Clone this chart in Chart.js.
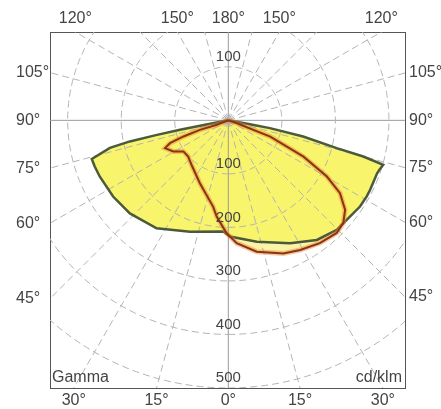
<!DOCTYPE html>
<html>
<head>
<meta charset="utf-8">
<title>Luminous intensity distribution</title>
<script src="https://cdn.jsdelivr.net/npm/chart.js@4.4.1/dist/chart.umd.min.js"></script>
<style>
	html, body {margin: 0; padding: 0; background: #fff;}
	canvas     {display: block;}
</style>
</head>
<body>
<canvas id="polar-chart" width="441" height="409"></canvas>
<script>
// Plane C0-C180 (yellow area, dark green outline). Gamma in degrees, left half negative.
var planeAGamma = [-90, -79.1, -78.9, -78.4, -77.9, -76.9, -74.2, -70.9, -66.3, -56.5, -46.6, -33.6, -19, -2.6,
                   0.8, 13.2, 26.7, 36.5, 44.7, 52, 56.8, 61.2, 63.9, 70.4, 71.9, 74, 75, 75.6, 77.8, 79.4, 79.6, 90];
var planeAValue = [0, 44, 92, 140, 188, 227, 265, 264, 262, 258, 253, 242, 220, 208,
                   217, 233, 257, 278, 288, 290, 294, 295, 295, 295, 297, 301, 261, 209, 143, 79, 41, 0];

// Plane C90-C270 (brown outline)
var planeBGamma = [-90, -68.8, -71.4, -70.2, -68.6, -66.3, -60.4, -55.3, -47.9, -39.4, -24.3, -9.9, -6.9, -0.8,
                   3.9, 12.2, 22.5, 29, 36.7, 43.9, 48.2, 52.5, 56.9, 60.3, 64.2, 68.8, 71.6, 90];
var planeBValue = [0, 23, 56, 89, 117, 129, 118, 102, 101, 108, 129, 164, 181, 211,
                   230, 251, 269, 277, 286, 292, 288, 275, 249, 212, 156, 84, 17, 0];

// Grid and labels
var ringValues   = [100, 200, 300, 400, 500];
var ringLabelsUp = [100];
var spokeAngles  = [15, 30, 45, 60, 75, 105, 120, 135, 150, 165];
var topAngles    = [-120, -150, 180, 150, 120];
var bottomAngles = [-30, -15, 0, 15, 30];
var sideAngles   = [105, 90, 75, 60, 45];

// Visible window of the diagram (cd/klm)
var xMin = -333, xMax = 330, yMin = -500, yMax = 165;

function rad(deg) {return deg * Math.PI / 180;}

function toXY(gamma, value) {
	return {x: value * Math.sin(rad(gamma)), y: -value * Math.cos(rad(gamma))};
}

function planePoints(gammas, values) {
	var pts = [];
	for (var i = 0; i < gammas.length; i++) {pts.push(toXY(gammas[i], values[i]));}
	return pts;
}

function lineSet(data, color, width, dash, order, extra) {
	var ds = {data: data, showLine: true, pointRadius: 0, borderColor: color, borderWidth: width,
	          borderDash: dash || [], fill: false, clip: 0, order: order, tension: 0};
	for (var k in extra || {}) {ds[k] = extra[k];}
	return ds;
}

var datasets = [];

// fills first (highest order is painted first)
datasets.push(lineSet(planePoints(planeAGamma, planeAValue), 'rgba(0,0,0,0)', 0, null, 5,
	{fill: 'shape', backgroundColor: '#f8f46c'}));
datasets.push(lineSet(planePoints(planeBGamma, planeBValue), 'rgba(0,0,0,0)', 0, null, 5,
	{fill: 'shape', backgroundColor: '#fbf3a6'}));

// dashed rings
ringValues.forEach(function(v) {
	var pts = [];
	for (var d = 0; d <= 360; d += 2) {pts.push(toXY(d, v));}
	datasets.push(lineSet(pts, '#b4b4b4', 1, [7, 4], 4));
});

// dashed spokes every 15 degrees
spokeAngles.forEach(function(a) {
	datasets.push(lineSet([toXY(a, 0), toXY(a, 900)],   '#b4b4b4', 1, [7, 4], 4));
	datasets.push(lineSet([toXY(-a, 0), toXY(-a, 900)], '#b4b4b4', 1, [7, 4], 4));
});

// solid main axes
datasets.push(lineSet([toXY(0, 900), toXY(180, 900)], '#9a9a9a', 1, null, 4));
datasets.push(lineSet([toXY(-90, 900), toXY(90, 900)], '#9a9a9a', 1, null, 4));

// outlines
datasets.push(lineSet(planePoints(planeAGamma, planeAValue), '#4b5a3a', 2.5, null, 2));
datasets.push(lineSet(planePoints(planeBGamma, planeBValue), 'rgba(236,128,60,0.45)', 5, null, 1));
datasets.push(lineSet(planePoints(planeBGamma, planeBValue), '#8a3410', 2, null, 0));

var tickFont  = {family: "'Liberation Sans', Arial, sans-serif", size: 16};
var tickColor = '#444';
var boxBorder = {display: true, color: '#555', width: 1};

function angleLabel(list) {
	return function(v, i) {return Math.abs(list[i]) + '\u00b0';};
}

var labelPlugin = {
	id: 'diagramLabels',
	afterDatasetsDraw: function(chart) {
		var ctx  = chart.ctx;
		var xs   = chart.scales.x;
		var ys   = chart.scales.y;
		var area = chart.chartArea;
		var cx   = xs.getPixelForValue(0);

		ctx.save();
		ctx.font         = '15px "Liberation Sans", Arial, sans-serif';
		ctx.fillStyle    = '#444';
		ctx.textAlign    = 'center';
		ctx.textBaseline = 'middle';
		ringValues.forEach(function(v)   {ctx.fillText(String(v), cx, ys.getPixelForValue(-v) - 10);});
		ringLabelsUp.forEach(function(v) {ctx.fillText(String(v), cx, ys.getPixelForValue(v) - 10);});

		ctx.font      = '16px "Liberation Sans", Arial, sans-serif';
		ctx.textAlign = 'left';
		ctx.fillText('Gamma', area.left + 2, area.bottom - 10);
		ctx.textAlign = 'right';
		ctx.fillText('cd/klm', area.right - 3, area.bottom - 10);
		ctx.restore();
	}
};

new Chart(document.getElementById('polar-chart').getContext('2d'), {
	type: 'scatter',
	data: {datasets: datasets},
	plugins: [labelPlugin],
	options: {
		responsive: false,
		animation:  false,
		events:     [],
		layout:     {autoPadding: false, padding: {left: 16, right: 0, top: 0, bottom: 0}},
		plugins:    {legend: {display: false}, tooltip: {enabled: false}},
		scales: {
			x: {
				type: 'linear', position: 'bottom', min: xMin, max: xMax,
				grid: {display: false, drawTicks: false}, border: boxBorder,
				ticks: {autoSkip: false, maxRotation: 0, padding: 3, color: tickColor, font: tickFont, callback: angleLabel(bottomAngles)},
				afterBuildTicks: function(scale) {
					scale.ticks = bottomAngles.map(function(g) {return {value: -yMin * Math.tan(rad(g))};});
				},
				afterFit: function(scale) {scale.height = 21;}
			},
			xTop: {
				type: 'linear', position: 'top', min: xMin, max: xMax,
				grid: {display: false, drawTicks: false}, border: boxBorder,
				ticks: {autoSkip: false, maxRotation: 0, padding: 4, color: tickColor, font: tickFont, callback: angleLabel(topAngles)},
				afterBuildTicks: function(scale) {
					scale.ticks = topAngles.map(function(g) {return {value: -yMax * Math.tan(rad(g))};});
				},
				afterFit: function(scale) {scale.height = 32;}
			},
			y: {
				type: 'linear', position: 'left', min: yMin, max: yMax,
				grid: {display: false, drawTicks: false}, border: boxBorder,
				ticks: {autoSkip: false, crossAlign: 'far', padding: 2, color: tickColor, font: tickFont, callback: angleLabel(sideAngles)},
				afterBuildTicks: function(scale) {
					scale.ticks = sideAngles.map(function(a) {return {value: xMin * Math.cos(rad(a)) / Math.sin(rad(a))};});
				},
				afterFit: function(scale) {scale.width = 34;}
			},
			yRight: {
				type: 'linear', position: 'right', min: yMin, max: yMax,
				grid: {display: false, drawTicks: false}, border: boxBorder,
				ticks: {autoSkip: false, crossAlign: 'near', padding: 4, color: tickColor, font: tickFont, callback: angleLabel(sideAngles)},
				afterBuildTicks: function(scale) {
					scale.ticks = sideAngles.map(function(a) {return {value: -xMax * Math.cos(rad(a)) / Math.sin(rad(a))};});
				},
				afterFit: function(scale) {scale.width = 36;}
			}
		}
	}
});
</script>
</body>
</html>
